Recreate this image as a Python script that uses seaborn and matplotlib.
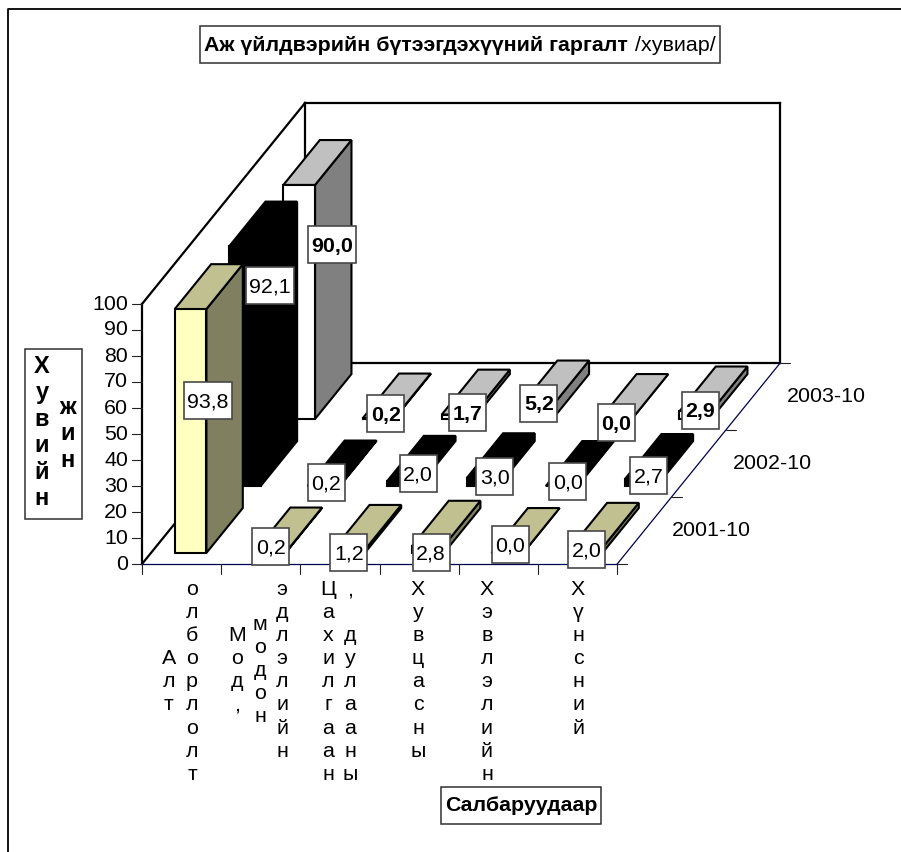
import matplotlib
matplotlib.use('Agg')
import matplotlib.pyplot as plt
from matplotlib.patches import Rectangle
import numpy as np
import seaborn as sns

# data
series_names = ['2001-10', '2002-10', '2003-10']
values_2001 = [93.8, 0.2, 1.2, 2.8, 0.0, 2.0]
values_2002 = [92.1, 0.2, 2.0, 3.0, 0.0, 2.7]
values_2003 = [90.0, 0.2, 1.7, 5.2, 0.0, 2.9]
y_ticks = [0, 10, 20, 30, 40, 50, 60, 70, 80, 90, 100]

title_bold = 'Аж үйлдвэрийн бүтээгдэхүүний гаргалт'
title_rest = '/хувиар/'
x_title = 'Салбаруудаар'

# category labels are wrapped one letter per row in the original
cat_columns = [
    (169, 'Алт', 3), (192, 'олборлолт', 0),
    (237, 'Мод,', 2), (260, 'модон', 1.5), (282, 'эдлэлийн', 0),
    (328, 'Цахилгаан', 0), (350, ',', 0), (350, 'дулааны', 2),
    (418, 'Хувцасны', 0), (487, 'Хэвлэлийн', 0), (578, 'Хүнсний', 0),
]

# layout, pixels
W, H = 901, 852
X0, Y0 = 142, 564      # chart origin
CAT_W = 79.2           # px per category
PX_VAL = 2.6           # px per percent
DEPTH_X, DEPTH_Y = 54.33, 67.0  # px per series going back
BAR_W = 0.4
D_FRONT, D_BACK = 0.165, 0.835
FS = 15.4

# where the value boxes were dragged to, px from the middle of the front face
label_shift = [
    [(17, 31), (1, 6), (0, -1), (3, -3), (3, 8), (0, 1)],
    [(25, 81), (2, 3), (15, 10), (12.5, 6), (6, 4), (8, 7)],
    [(33, 57), (7.5, 5), (10, 4), (2, 9), (0, -4), (5, 5)],
]
series_label_shift = [67, 74, 73]

colors = [
    dict(face='#FFFFC0', side='#808060', top='#C0C090'),
    dict(face='#000000', side='#000000', top='#000000'),
    dict(face='#FFFFFF', side='#808080', top='#C0C0C0'),
]

sns.set_style('white')
plt.rcParams['font.family'] = ['Liberation Sans', 'DejaVu Sans']
plt.rcParams['text.color'] = 'black'

fig = plt.figure(figsize=(W / 100, H / 100), dpi=100)
ax = fig.add_axes([0, 0, 1, 1])

dx = DEPTH_X / CAT_W   # depth shift in data units
dy = DEPTH_Y / PX_VAL


def proj(cat, val, depth):
    return cat + depth * dx, val + depth * dy


def line3d(a, b, **kw):
    xa, ya = proj(*a)
    xb, yb = proj(*b)
    ax.plot([xa, xb], [ya, yb], solid_capstyle='projecting', **kw)


def px_text(x, y, s, **kw):
    fig.text(x / W, 1 - y / H, s, **kw)


n_cat = len(values_2001)
n_ser = len(series_names)
heavy = dict(color='black', lw=1.6, zorder=0.5)
thin = dict(color='#222222', lw=0.8, zorder=4)
navy = dict(color='#000050', lw=0.9, zorder=4)

# walls
line3d((0, 0, 0), (0, 100, 0), **heavy)
line3d((0, 100, 0), (0, 100, n_ser), **heavy)
line3d((0, 0, 0), (0, 0, n_ser), **heavy)
line3d((0, 0, n_ser), (0, 100, n_ser), **heavy)
line3d((0, 100, n_ser), (n_cat, 100, n_ser), **heavy)
line3d((n_cat, 100, n_ser), (n_cat, 0, n_ser), **heavy)
line3d((0, 0, n_ser), (n_cat, 0, n_ser), **heavy)

# floor edges and ticks
line3d((0, 0, 0), (n_cat, 0, 0), **navy)
line3d((n_cat, 0, 0), (n_cat, 0, n_ser), **navy)
tick_x = 10 / CAT_W
tick_y = 10 / PX_VAL
for v in y_ticks:
    ax.plot([-tick_x, 0], [v, v], **thin)
    px_text(X0 - 14, Y0 - v * PX_VAL, str(v), ha='right', va='center', fontsize=FS)
for k in range(n_cat + 1):
    ax.plot([k, k], [-tick_y, 0], **thin)
for s in range(n_ser + 1):
    xt, yt = proj(n_cat, 0, s)
    ax.plot([xt, xt + tick_x], [yt, yt], **thin)
for s, name in enumerate(series_names):
    xt, yt = proj(n_cat, 0, s + 0.5)
    ax.text(xt + series_label_shift[s] / CAT_W, yt, name, ha='center', va='center', fontsize=FS)

# bars, back row first
all_values = [values_2001, values_2002, values_2003]
for s in reversed(range(n_ser)):
    vals = all_values[s]
    col = colors[s]
    base = (s + D_FRONT) * dy
    xs = np.arange(n_cat) + 0.5 + (s + D_FRONT) * dx
    for k, v in enumerate(vals):
        l, r = k + 0.5 - BAR_W / 2, k + 0.5 + BAR_W / 2
        d0, d1 = s + D_FRONT, s + D_BACK
        side = [proj(r, 0, d0), proj(r, 0, d1), proj(r, v, d1), proj(r, v, d0)]
        top = [proj(l, v, d0), proj(r, v, d0), proj(r, v, d1), proj(l, v, d1)]
        ax.fill(*zip(*side), facecolor=col['side'], edgecolor='black', lw=1.5, joinstyle='miter')
        ax.fill(*zip(*top), facecolor=col['top'], edgecolor='black', lw=1.5, joinstyle='miter')
    sns.barplot(x=xs, y=vals, native_scale=True, width=BAR_W, bottom=base, color=col['face'],
                saturation=1, edgecolor='black', linewidth=1.5, errorbar=None, ax=ax)

# value boxes
for s in range(n_ser):
    for k, v in enumerate(all_values[s]):
        xc, yc = proj(k + 0.5, v / 2, s + D_FRONT)
        xc += label_shift[s][k][0] / CAT_W
        yc += label_shift[s][k][1] / PX_VAL
        txt = f'{v:.1f}'.replace('.', ',')
        bw = (48 if v >= 10 else 37) / CAT_W
        bh = 37 / PX_VAL
        ax.add_patch(Rectangle((xc - bw / 2, yc - bh / 2), bw, bh, facecolor='white',
                               edgecolor='#484848', lw=1.2, zorder=5))
        ax.text(xc, yc - 7 / PX_VAL, txt, ha='center', va='baseline', fontsize=FS,
                fontweight='bold' if s == 2 else 'normal', zorder=6)

# category letters
for x, word, row0 in cat_columns:
    for i, ch in enumerate(word):
        px_text(x, 595 + (row0 + i) * 23.1, ch, ha='center', va='baseline', fontsize=FS)


# boxed titles
def px_box(x0, y0, x1, y1):
    fig.add_artist(Rectangle((x0 / W, 1 - y1 / H), (x1 - x0) / W, (y1 - y0) / H,
                             transform=fig.transFigure, facecolor='white',
                             edgecolor='#303030', lw=1.1, zorder=7))


px_box(200, 26, 720, 63)
fig.text(204 / W, 1 - 51 / H, title_bold, ha='left', va='baseline', fontsize=FS,
         fontweight='bold', zorder=8)
fig.text(716 / W, 1 - 51 / H, title_rest, ha='right', va='baseline', fontsize=FS, zorder=8)

px_box(441, 787, 601, 824)
fig.text(521 / W, 1 - 811 / H, x_title, ha='center', va='baseline', fontsize=FS,
         fontweight='bold', zorder=8)

px_box(25, 349, 82, 519)
for i, ch in enumerate('Хувийн'):
    fig.text(42 / W, 1 - (373 + i * 26.4) / H, ch, ha='center', va='baseline', fontsize=17,
             fontweight='bold', zorder=8)
for i, ch in enumerate('жин'):
    fig.text(68 / W, 1 - (414 + i * 26.4) / H, ch, ha='center', va='baseline', fontsize=17,
             fontweight='bold', zorder=8)

# outer frame, only top and left survive in the crop
fig.add_artist(plt.Line2D([8 / W, 8 / W, 1], [0, 1 - 9 / H, 1 - 9 / H], color='black', lw=1.3))

ax.set_xlim(-X0 / CAT_W, (W - X0) / CAT_W)
ax.set_ylim((Y0 - H) / PX_VAL, Y0 / PX_VAL)
ax.axis('off')

fig.savefig('out.png', dpi=100, facecolor='white')
